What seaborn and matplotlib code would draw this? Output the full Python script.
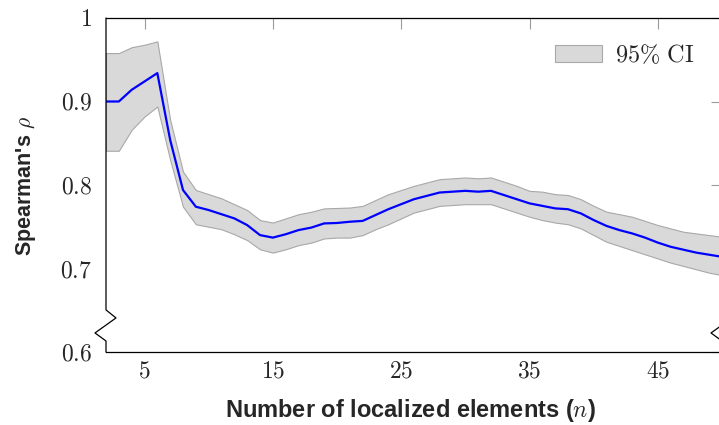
import numpy as np
import pandas as pd
import seaborn as sns
import matplotlib.pyplot as plt
import matplotlib.ticker as mticker
from matplotlib.patches import Patch

# values
n_elements = list(range(2, 51))
rho_mean = [0.900, 0.900, 0.914, 0.924, 0.934, 0.854, 0.794, 0.774, 0.770, 0.765,
            0.760, 0.752, 0.740, 0.737, 0.741, 0.746, 0.749, 0.754, 0.7545, 0.756,
            0.757, 0.764, 0.771, 0.777, 0.783, 0.787, 0.791, 0.792, 0.793, 0.792,
            0.793, 0.788, 0.783, 0.778, 0.775, 0.772, 0.771, 0.766, 0.758, 0.751,
            0.746, 0.742, 0.737, 0.731, 0.726, 0.7225, 0.719, 0.7165, 0.714]
ci_upper = [0.958, 0.958, 0.965, 0.968, 0.972, 0.878, 0.816, 0.794, 0.789, 0.784,
            0.777, 0.770, 0.758, 0.755, 0.760, 0.765, 0.768, 0.772, 0.7725, 0.773,
            0.775, 0.782, 0.789, 0.794, 0.799, 0.803, 0.807, 0.808, 0.809, 0.808,
            0.809, 0.804, 0.799, 0.793, 0.792, 0.789, 0.788, 0.783, 0.775, 0.768,
            0.765, 0.762, 0.757, 0.752, 0.748, 0.744, 0.742, 0.740, 0.738]
ci_lower = [0.841, 0.841, 0.866, 0.882, 0.894, 0.830, 0.774, 0.753, 0.750, 0.747,
            0.741, 0.734, 0.723, 0.719, 0.723, 0.728, 0.731, 0.736, 0.737, 0.737,
            0.740, 0.747, 0.753, 0.760, 0.767, 0.771, 0.775, 0.776, 0.777, 0.777,
            0.777, 0.772, 0.767, 0.762, 0.758, 0.755, 0.753, 0.748, 0.740, 0.732,
            0.727, 0.722, 0.717, 0.712, 0.707, 0.703, 0.699, 0.695, 0.692]
x_ticks = [5, 15, 25, 35, 45]
y_ticks = [0.6, 0.7, 0.8, 0.9, 1.0]

df = pd.DataFrame({'n': n_elements, 'rho': rho_mean, 'lo': ci_lower, 'hi': ci_upper})

sns.set_style('white')
plt.rcParams['mathtext.fontset'] = 'cm'
plt.rcParams['font.family'] = ['Liberation Sans', 'DejaVu Sans']

fig = plt.figure(figsize=(7.19, 4.25), dpi=100)
W, H = 719, 425
ax = fig.add_axes([106 / W, (H - 352) / H, (722 - 106) / W, (352 - 18) / H])

# confidence band and mean line
ax.fill_between(df['n'], df['lo'], df['hi'], facecolor='#d9d9d9', edgecolor='#a8a8a8',
                linewidth=0.8, zorder=1)
sns.lineplot(data=df, x='n', y='rho', color='#0000ff', linewidth=1.6, ax=ax, zorder=3)

ax.set_xlim(2, 50)
ax.set_ylim(0.6, 1.0)
ax.set_xticks(x_ticks)
ax.set_yticks(y_ticks)
ax.xaxis.set_major_formatter(mticker.FuncFormatter(lambda v, p: f'${v:g}$'))
ax.yaxis.set_major_formatter(mticker.FuncFormatter(lambda v, p: f'${v:g}$'))
ax.tick_params(axis='both', which='major', direction='in', length=8, width=0.8,
               color='#9a9a9a', labelsize=17, top=True, right=True, pad=6)
ax.tick_params(axis='y', pad=10)

ax.set_xlabel('Number of localized elements ($n$)', fontsize=17, fontweight='bold')
ax.set_ylabel("Spearman's $\\rho$", fontsize=15.5, fontweight='bold')
ax.xaxis.set_label_coords((410 - 106) / 616, (352 - 410) / 334)
ax.xaxis.label.set_va('center')
ax.yaxis.set_label_coords((26 - 106) / 616, (352 - 186) / 334)
ax.yaxis.label.set_va('center')

# spines with axis-break zigzag
for side in ['top', 'bottom']:
    ax.spines[side].set_color('black')
    ax.spines[side].set_linewidth(0.9)
ax.spines['left'].set_visible(False)
ax.spines['right'].set_visible(False)
dx = 10 / 616
zx = [0, 0, 0, dx, -1.1 * dx, 0, 0]
zy = [1.0, 0.126, 0.126, 0.102, 0.057, 0.033, 0.0]
ax.plot(zx, zy, transform=ax.transAxes, color='black', linewidth=0.9, clip_on=False, zorder=5)
ax.plot([1 + v for v in zx], zy, transform=ax.transAxes, color='black', linewidth=0.9,
        clip_on=False, zorder=5)

handle = Patch(facecolor='#d9d9d9', edgecolor='#a8a8a8', linewidth=0.8)
ax.legend([handle], [r'$\mathrm{95\%\ CI}$'], loc='upper right', frameon=False,
          fontsize=17.5, handlelength=1.95, handleheight=0.65, handletextpad=0.5,
          bbox_to_anchor=(0.99, 0.99))

fig.savefig('out.png', dpi=100)
